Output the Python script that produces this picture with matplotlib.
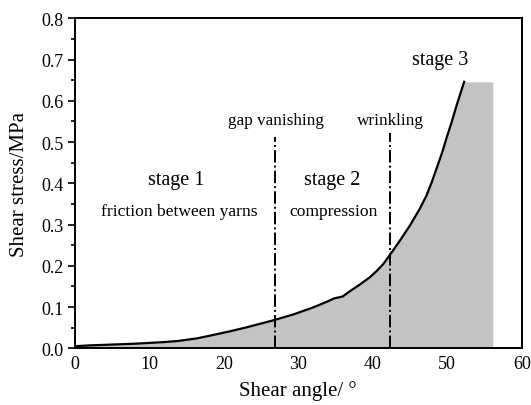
import matplotlib.pyplot as plt
from matplotlib.ticker import MultipleLocator

plt.rcParams['font.family'] = ['Liberation Serif', 'DejaVu Serif']

# curve
angle = [0, 2, 5, 8, 10, 12, 14, 16.4, 18.5, 20.8, 23.1, 25, 26.9, 29.5, 32.0, 34.0, 34.8, 35.6, 36.0,
         36.9, 38.3, 39.6, 40.5, 41.4, 42.4, 43.6, 45.0, 46.3, 47.2, 47.9, 48.6, 49.3, 49.9, 50.6, 51.2, 51.8, 52.26]
stress = [0.005, 0.007, 0.009, 0.011, 0.013, 0.015, 0.018, 0.024, 0.032, 0.041, 0.051, 0.060, 0.069, 0.083, 0.099, 0.114, 0.121, 0.124, 0.126,
          0.138, 0.155, 0.172, 0.187, 0.204, 0.229, 0.260, 0.298, 0.338, 0.370, 0.402, 0.438, 0.474, 0.510, 0.549, 0.586, 0.620, 0.646]
plateau_end = 56.1
plateau_val = 0.646

markers = [26.87, 42.3]
marker_top = [0.511, 0.523]
marker_labels = ['gap vanishing', 'wrinkling']

fig = plt.figure(figsize=(5.31, 4.06), dpi=100)
ax = fig.add_axes([0.1407, 0.1397, 0.842, 0.8128])

fill_x = angle + [plateau_end]
fill_y = stress + [plateau_val]
ax.fill_between(fill_x, 0, fill_y, color='#c3c3c3', linewidth=0)
ax.plot(angle, stress, color='black', lw=1.6)

for xm, top, lab in zip(markers, marker_top, marker_labels):
    ax.plot([xm, xm], [0, top], color='black', lw=1.4, ls='-.')
    ax.text(xm + 0.1, 0.553, lab, ha='center', va='center', fontsize=12.3)

ax.text(13.6, 0.409, 'stage 1', ha='center', va='center', fontsize=14.5)
ax.text(14.06, 0.333, 'friction between yarns', ha='center', va='center', fontsize=12.6)
ax.text(34.5, 0.409, 'stage 2', ha='center', va='center', fontsize=14.5)
ax.text(34.7, 0.333, 'compression', ha='center', va='center', fontsize=12.6)
ax.text(49.0, 0.701, 'stage 3', ha='center', va='center', fontsize=14.5)

ax.set_xlim(0, 60)
ax.set_ylim(0, 0.8)
ax.xaxis.set_major_locator(MultipleLocator(10))
ax.yaxis.set_major_locator(MultipleLocator(0.1))
ax.yaxis.set_minor_locator(MultipleLocator(0.05))
ax.yaxis.set_major_formatter(plt.FormatStrFormatter('%.1f'))
ax.tick_params(axis='y', which='major', direction='out', length=5, width=1.2, labelsize=13, pad=3)
ax.tick_params(axis='y', which='minor', direction='out', length=3, width=1.2)
ax.tick_params(axis='x', direction='out', length=0, labelsize=13, pad=5)
for s in ax.spines.values():
    s.set_linewidth(1.4)

ax.set_xlabel('Shear angle/ °', fontsize=15, labelpad=6)
ax.set_ylabel('Shear stress/MPa', fontsize=15, labelpad=9)

fig.savefig('out.png', dpi=100)
